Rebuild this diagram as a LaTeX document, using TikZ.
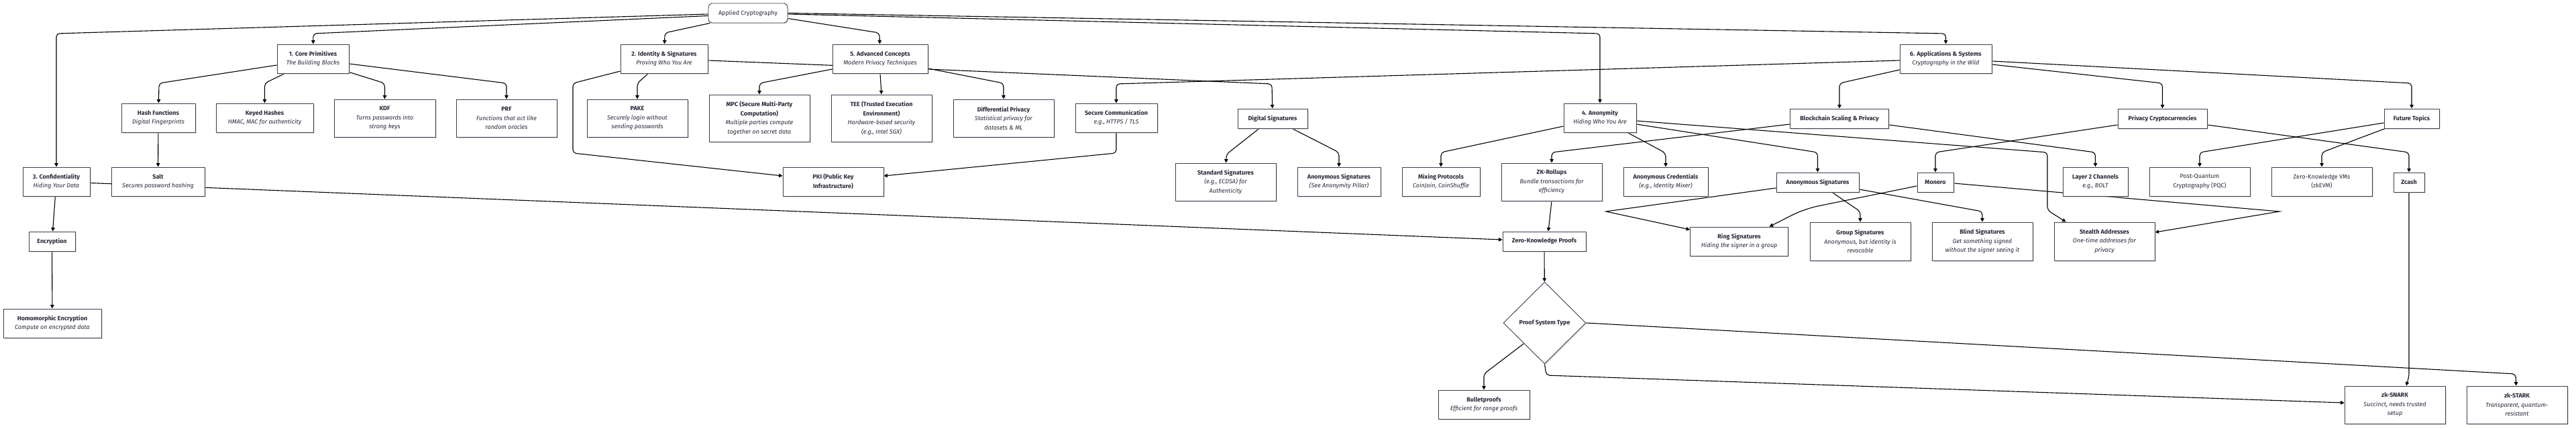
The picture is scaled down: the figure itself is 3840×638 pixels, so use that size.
\documentclass[tikz,border=0pt]{standalone}
\usepackage{fontspec}
\setmainfont{Fira Sans}
\usetikzlibrary{arrows.meta,shapes.geometric,calc,backgrounds,shadows}
\definecolor{boxline}{RGB}{62,62,82}
\definecolor{txt}{RGB}{40,40,58}
\newcommand{\nhead}[1]{{\bfseries #1}}
\newcommand{\nsub}[1]{{\itshape #1}}
\begin{document}
\begin{tikzpicture}[x=1pt,y=-1pt,
  box/.style={draw=boxline, line width=0.9pt, fill=white, text=txt, align=center, inner sep=0pt,
    font=\fontsize{9}{13.5}\selectfont,
    drop shadow={shadow xshift=1.5pt,shadow yshift=-1.5pt,fill=black!25,opacity=0.5}},
  arr/.style={-{Triangle[length=5.5pt,width=5.5pt]}, line width=1.1pt, rounded corners=5pt},
]
\useasboundingbox (0,0) rectangle (3840,638);

% ---------- nodes ----------
\node[box, minimum width=118pt, minimum height=29pt, rounded corners=6pt] (A) at (1115,19.5) {Applied Cryptography};

\node[box, minimum width=107pt, minimum height=43pt] (B) at (466.5,87.5) {\nhead{1. Core Primitives}\\\nsub{The Building Blocks}};
\node[box, minimum width=130pt, minimum height=43pt] (C) at (990,87.5) {\nhead{2. Identity \& Signatures}\\\nsub{Proving Who You Are}};
\node[box, minimum width=100pt, minimum height=43pt] (D) at (84,270.5) {\nhead{3. Confidentiality}\\\nsub{Hiding Your Data}};
\node[box, minimum width=108pt, minimum height=43pt] (E) at (2385,175.5) {\nhead{4. Anonymity}\\\nsub{Hiding Who You Are}};
\node[box, minimum width=142pt, minimum height=43pt] (F) at (1312,87.5) {\nhead{5. Advanced Concepts}\\\nsub{Modern Privacy Techniques}};
\node[box, minimum width=137pt, minimum height=43pt] (G) at (2900.5,87.5) {\nhead{6. Applications \& Systems}\\\nsub{Cryptography in the Wild}};

\node[box, minimum width=110pt, minimum height=43pt] (Hash) at (236,175.5) {\nhead{Hash Functions}\\\nsub{Digital Fingerprints}};
\node[box, minimum width=145pt, minimum height=43pt] (Keyed) at (394.5,175.5) {\nhead{Keyed Hashes}\\\nsub{HMAC, MAC for authenticity}};
\node[box, minimum width=151pt, minimum height=56pt] (KDF) at (573.5,176) {\nhead{KDF}\\\nsub{Turns passwords into}\\\nsub{strong keys}};
\node[box, minimum width=150pt, minimum height=56pt] (PRF) at (755,176) {\nhead{PRF}\\\nsub{Functions that act like}\\\nsub{random oracles}};
\node[box, minimum width=150pt, minimum height=56pt] (PAKE) at (950,176) {\nhead{PAKE}\\\nsub{Securely login without}\\\nsub{sending passwords}};
\node[box, minimum width=150pt, minimum height=70pt] (MPC) at (1132,176) {\nhead{MPC (Secure Multi-Party}\\\nhead{Computation)}\\\nsub{Multiple parties compute}\\\nsub{together on secret data}};
\node[box, minimum width=150pt, minimum height=70pt] (TEE) at (1314,176) {\nhead{TEE (Trusted Execution}\\\nhead{Environment)}\\\nsub{Hardware-based security}\\\nsub{(e.g., Intel SGX)}};
\node[box, minimum width=150pt, minimum height=56pt] (DP) at (1496,176) {\nhead{Differential Privacy}\\\nsub{Statistical privacy for}\\\nsub{datasets \& ML}};
\node[box, minimum width=122pt, minimum height=43pt] (SC) at (1664,175.5) {\nhead{Secure Communication}\\\nsub{e.g., HTTPS / TLS}};
\node[box, minimum width=104pt, minimum height=29pt] (DigSig) at (1897,176.5) {\nhead{Digital Signatures}};

\node[box, minimum width=139pt, minimum height=43pt] (Salt) at (235.5,270.5) {\nhead{Salt}\\\nsub{Secures password hashing}};
\node[box, minimum width=150pt, minimum height=43pt] (PKI) at (1242,270.5) {\nhead{PKI (Public Key}\\\nhead{Infrastructure)}};
\node[box, minimum width=150pt, minimum height=56pt] (Std) at (1827,271) {\nhead{Standard Signatures}\\\nsub{(e.g., ECDSA) for}\\\nsub{Authenticity}};
\node[box, minimum width=124pt, minimum height=43pt] (AS1) at (1996,270.5) {\nhead{Anonymous Signatures}\\\nsub{(See Anonymity Pillar)}};
\node[box, minimum width=116pt, minimum height=43pt] (Mix) at (2148,270.5) {\nhead{Mixing Protocols}\\\nsub{CoinJoin, CoinShuffle}};
\node[box, minimum width=150pt, minimum height=56pt] (ZKR) at (2313,271) {\nhead{ZK-Rollups}\\\nsub{Bundle transactions for}\\\nsub{efficiency}};
\node[box, minimum width=126pt, minimum height=43pt] (AC) at (2483,270.5) {\nhead{Anonymous Credentials}\\\nsub{(e.g., Identity Mixer)}};

\node[box, minimum width=147pt, minimum height=29pt] (BSP) at (2742,176.5) {\nhead{Blockchain Scaling \& Privacy}};
\node[box, minimum width=133pt, minimum height=29pt] (PC) at (3223.5,176.5) {\nhead{Privacy Cryptocurrencies}};
\node[box, minimum width=82pt, minimum height=29pt] (FT) at (3595,176.5) {\nhead{Future Topics}};

\node[box, minimum width=123pt, minimum height=29pt] (AS2) at (2709.5,271.5) {\nhead{Anonymous Signatures}};
\node[box, minimum width=54pt, minimum height=29pt] (Monero) at (2885,271.5) {\nhead{Monero}};
\node[box, minimum width=97pt, minimum height=43pt] (L2) at (3123.5,270.5) {\nhead{Layer 2 Channels}\\\nsub{e.g., BOLT}};
\node[box, minimum width=150pt, minimum height=43pt] (PQC) at (3279,270.5) {Post-Quantum\\Cryptography (PQC)};
\node[box, minimum width=150pt, minimum height=43pt] (ZKVM) at (3461,270.5) {Zero-Knowledge VMs\\(zkEVM)};
\node[box, minimum width=46pt, minimum height=29pt] (Zcash) at (3591,271.5) {\nhead{Zcash}};

\node[box, minimum width=69pt, minimum height=29pt] (Enc) at (77.5,359.5) {\nhead{Encryption}};
\node[box, minimum width=146pt, minimum height=43pt] (Homo) at (78,481.5) {\nhead{Homomorphic Encryption}\\\nsub{Compute on encrypted data}};

\node[box, minimum width=124pt, minimum height=29pt] (ZKP) at (2302,359.5) {\nhead{Zero-Knowledge Proofs}};
\node[box, minimum width=146pt, minimum height=43pt] (Ring) at (2592.6,359.5) {\nhead{Ring Signatures}\\\nsub{Hiding the signer in a group}};
\node[box, minimum width=150pt, minimum height=57pt] (Group) at (2773,359.5) {\nhead{Group Signatures}\\\nsub{Anonymous, but identity is}\\\nsub{revocable}};
\node[box, minimum width=150pt, minimum height=57pt] (Blind) at (2955,359.5) {\nhead{Blind Signatures}\\\nsub{Get something signed}\\\nsub{without the signer seeing it}};
\node[box, minimum width=150pt, minimum height=57pt] (Stealth) at (3137,359.5) {\nhead{Stealth Addresses}\\\nsub{One-time addresses for}\\\nsub{privacy}};

\node[box, diamond, aspect=1, minimum width=123pt, minimum height=122pt] (PST) at (2302.5,481) {\nhead{Proof System Type}};
\node[box, minimum width=136pt, minimum height=43pt] (Bullet) at (2212,602.5) {\nhead{Bulletproofs}\\\nsub{Efficient for range proofs}};
\node[box, minimum width=150pt, minimum height=56pt] (SNARK) at (3570,603) {\nhead{zk-SNARK}\\\nsub{Succinct, needs trusted}\\\nsub{setup}};
\node[box, minimum width=150pt, minimum height=56pt] (STARK) at (3752,603) {\nhead{zk-STARK}\\\nsub{Transparent, quantum-}\\\nsub{resistant}};

% ---------- connectors ----------
\begin{pgfonlayer}{background}
\fill[white] (0,0) rectangle (3840,638);
\draw[arr] ($(A.west)+(0,1.5)$) -- (84,50) -- (D);
\draw[arr] ($(A.west)+(0,4)$) -- (467,50) -- (B);
\draw[arr] ($(A.south west)+(3,0)$) -- (991,49) -- (C);
\draw[arr] ($(A.east)+(0,8)$) -- (1311,49) -- (F);
\draw[arr] ($(A.east)+(0,1.5)$) -- (2385,50) -- (E);
\draw[arr] (A.east) -- (2900.5,50) -- (G);

\draw[arr] ($(B.west)+(0,9.5)$) -- (237,124) -- (Hash);
\draw[arr] ($(B.south)+(-42,0)$) -- (394.5,124) -- (Keyed);
\draw[arr] ($(B.south east)+(0,-2)$) -- (573.5,124) -- (KDF);
\draw[arr] ($(B.east)+(0,7.5)$) -- (755,124) -- (PRF);
\draw[arr] (Hash) -- (Salt);
\draw[arr] (D) -- (Enc);
\draw[arr] (Enc) -- (Homo);
\draw[arr] (D) -- (ZKP);

\draw[arr] ($(C.south)+(-23.5,0)$) -- (950,124) -- (PAKE);
\draw[arr] ($(C.west)+(0,18.5)$) -- (854,124) -- (854,228) -- ($(PKI.west)+(0,-8.5)$);
\draw[arr] ($(C.east)+(0,2.5)$) -- (1383,103) -- (1896,125) -- (DigSig);

\draw[arr] ($(F.west)+(0,15.5)$) -- (1132,124) -- (MPC);
\draw[arr] (F.south) -- (TEE.north);
\draw[arr] ($(F.east)+(0,14.5)$) -- (1496,124) -- (DP);

\draw[arr] ($(G.west)+(0,2.5)$) -- (1664,125) -- (SC);
\draw[arr] (SC.south) -- (1664,228) -- ($(PKI.east)+(0,-8.5)$);
\draw[arr] ($(DigSig.south)+(-20,0)$) -- (1828,230) -- (Std);
\draw[arr] ($(DigSig.south)+(29,0)$) -- (1996,227) -- (AS1);

\draw[arr] ($(E.west)+(0,12.5)$) -- (2148,227) -- (Mix);
\draw[arr] ($(E.south)+(41,0)$) -- (2483,228) -- (AC);
\draw[arr] ($(E.east)+(0,9.5)$) -- (2709.5,227) -- (AS2);
\draw[arr] ($(E.east)+(0,4.5)$) -- (3052,227) -- (3052,313) -- ($(Stealth.north west)+(18,0)$);

\draw[arr] ($(G.west)+(0,16.5)$) -- (2742,124) -- (BSP);
\draw[arr] ($(G.east)+(0,8.5)$) -- (3223.5,124) -- (PC);
\draw[arr] ($(G.east)+(0,3.5)$) -- (3595,124) -- (FT);
\draw[arr] ($(BSP.west)+(0,8.5)$) -- (2313,227) -- (ZKR);
\draw[arr] ($(BSP.east)+(0,9.5)$) -- (3123.5,227) -- (L2);
\draw[arr] ($(PC.west)+(0,9.5)$) -- (2885,227) -- (Monero);
\draw[arr] ($(PC.east)+(0,9.5)$) -- (3591,227) -- (Zcash);
\draw[arr] ($(FT.west)+(0,6.5)$) -- (3279,227) -- (PQC);
\draw[arr] ($(FT.south west)+(2,0)$) -- (3461,227) -- (ZKVM);

\draw[arr, sharp corners] ($(AS2.west)+(0,8.5)$) -- (2394,315) -- ($(Ring.west)+(0,-17.5)$);
\draw[arr] ($(AS2.south)+(21.5,0)$) -- (2773,315) -- (Group);
\draw[arr] ($(AS2.east)+(0,10.5)$) -- (2955,315) -- (Blind);
\draw[arr, rounded corners=20pt] ($(Monero.west)+(0,5.5)$) -- (2690,311) -- ($(Ring.north)+(45,0)$);
\draw[arr, sharp corners] ($(Monero.east)+(0,1.5)$) -- (3398,315) -- ($(Stealth.east)+(0,-13.5)$);

\draw[arr] (ZKR.south) -- ($(ZKP.north)+(6,0)$);
\draw[arr] (ZKP) -- (PST);
\draw[arr] (PST.south west) -- (2212,557) -- (Bullet);
\draw[arr] (PST.south) -- (2305,559) -- ($(SNARK.west)+(0,-3)$);
\draw[arr] (PST.east) -- (3750,557) -- (STARK);
\draw[arr] (Zcash.south) -- (3591,560) -- ($(SNARK.north)+(17,0)$);
\end{pgfonlayer}
\end{tikzpicture}
\end{document}
